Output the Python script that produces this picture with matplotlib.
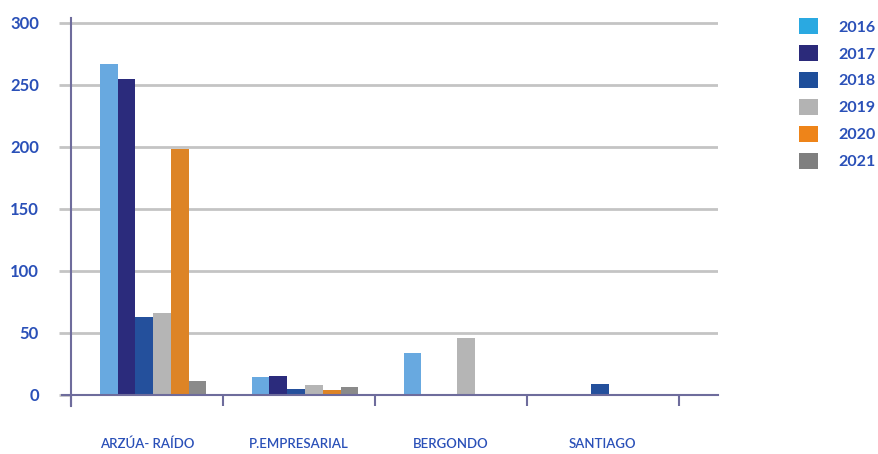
import numpy as np
import matplotlib
matplotlib.use("Agg")
import matplotlib.pyplot as plt
from matplotlib.patches import Patch

# data
categories = ["ARZÚA- RAÍDO", "P.EMPRESARIAL", "BERGONDO", "SANTIAGO"]
years = ["2016", "2017", "2018", "2019", "2020", "2021"]
v2016 = [267, 14, 34, 0]
v2017 = [255, 15, 0, 0]
v2018 = [63, 5, 0, 9]
v2019 = [66, 8, 46, 0]
v2020 = [198, 4, 0, 0]
v2021 = [11, 6, 0, 0]
series = [v2016, v2017, v2018, v2019, v2020, v2021]

bar_colors = ["#68A9E0", "#2B2B7C", "#24509C", "#B5B5B5", "#DD8426", "#8A8A8A"]
legend_colors = ["#2AA9E1", "#2B2A7A", "#1E4E9A", "#B3B3B3", "#EE8419", "#7F7F7F"]
text_color = "#2A50B8"
axis_color = "#6E6C9C"

plt.rcParams["font.family"] = ["Lato", "DejaVu Sans"]

fig = plt.figure(figsize=(8.79, 4.54), dpi=100)
ax = fig.add_axes([71 / 879, 48 / 454, (718 - 71) / 879, (406 - 18) / 454])

x = np.arange(len(categories))
w = 0.117
for i, vals in enumerate(series):
    ax.bar(x + 0.04 + (i - 2.5) * w, vals, width=w, color=bar_colors[i], zorder=3)

ax.set_xlim(-0.5, 3.757)
ax.set_ylim(-9, 304)

# grid
ax.set_yticks([0, 50, 100, 150, 200, 250, 300])
for yv in [50, 100, 150, 200, 250, 300]:
    ax.axhline(yv, color="#C4C4C4", lw=2, zorder=1)
ax.tick_params(axis="y", length=9, width=2, color="#C4C4C4", pad=14,
               labelsize=12, labelcolor=text_color)
for lab in ax.get_yticklabels():
    lab.set_fontweight("bold")

# axes lines
for s in ["top", "right"]:
    ax.spines[s].set_visible(False)
ax.spines["left"].set_color(axis_color)
ax.spines["left"].set_linewidth(1.5)
ax.spines["bottom"].set_position(("data", 0))
ax.spines["bottom"].set_color(axis_color)
ax.spines["bottom"].set_linewidth(1.5)
ax.spines["bottom"].set_bounds(-0.56, 3.757)
ax.spines["bottom"].set_zorder(4)

ax.set_xticks(np.arange(-0.5, 4.0, 1.0))
ax.set_xticklabels([])
ax.tick_params(axis="x", which="major", length=8, width=1.5, color=axis_color)
ax.set_xticks(x, minor=True)
ax.set_xticklabels(categories, minor=True)
ax.tick_params(axis="x", which="minor", length=0, pad=31, labelsize=9.5,
               labelcolor=text_color)
for lab in ax.get_xticklabels(minor=True):
    lab.set_fontweight("semibold")

handles = [Patch(facecolor=c, edgecolor="none") for c in legend_colors]
leg = fig.legend(handles, years, loc="upper left", bbox_to_anchor=(793 / 879, 1 - 12 / 454),
                 frameon=False, fontsize=11.5, handlelength=1.15, handleheight=1.15,
                 labelspacing=0.66, handletextpad=1.3, borderaxespad=0)
for t in leg.get_texts():
    t.set_color(text_color)
    t.set_fontweight("bold")

fig.savefig("out.png", dpi=100)
